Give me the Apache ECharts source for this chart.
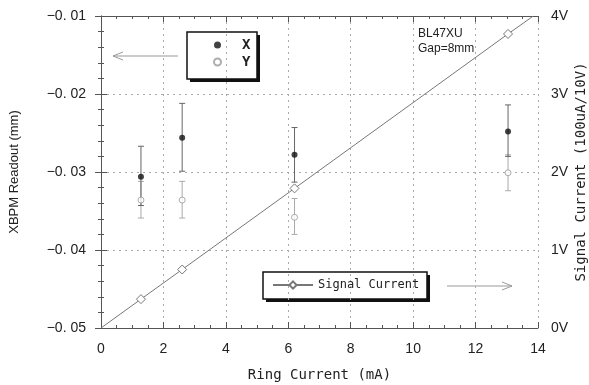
<!DOCTYPE html>
<html>
<head>
<meta charset="utf-8">
<script src="https://cdn.jsdelivr.net/npm/echarts@6/dist/echarts.min.js"></script>
<style>
  html, body { margin: 0; padding: 0; background: #fff; }
  #chart { width: 589px; height: 385px; }
</style>
</head>
<body>
<div id="chart"></div>
<script>
// ring current of each measurement (mA)
const ringCurrent = [1.28, 2.6, 6.2, 13.04];

// XBPM readout (mm) with error bar ends
const xReadout = [-0.0306, -0.0256, -0.0278, -0.0248];
const xLow = [-0.0343, -0.0299, -0.0313, -0.0280];
const xHigh = [-0.0267, -0.0212, -0.0243, -0.0214];

const yReadout = [-0.0336, -0.0336, -0.0358, -0.0301];
const yLow = [-0.0359, -0.0359, -0.0380, -0.0324];
const yHigh = [-0.0312, -0.0312, -0.0334, -0.0278];

// signal current (V), fitted line runs from origin to the top edge
const signalCurrent = [0.37, 0.75, 1.79, 3.77];
const fitStart = [0, 0];
const fitEnd = [13.85, 4.0];

const xTicks = [0, 2, 4, 6, 8, 10, 12, 14];
const leftTickLabels = ["\u22120. 05", "\u22120. 04", "\u22120. 03", "\u22120. 02", "\u22120. 01"];
const rightTickLabels = ["0V", "1V", "2V", "3V", "4V"];

const axisColor = "#555";
const gridColor = "#aaa";
const mono = "DejaVu Sans Mono";
const tickFont = "Liberation Sans Narrow, Liberation Sans, Arial";

const chart = echarts.init(document.getElementById("chart"));

function errorBars(low, high, color) {
  return {
    type: "custom",
    xAxisIndex: 0,
    yAxisIndex: 0,
    silent: true,
    data: ringCurrent.map((c, i) => [c, low[i], high[i]]),
    renderItem(params, api) {
      const lo = api.coord([api.value(0), api.value(1)]);
      const hi = api.coord([api.value(0), api.value(2)]);
      const w = 3;
      const style = { stroke: color, lineWidth: 1 };
      return {
        type: "group",
        children: [
          { type: "line", shape: { x1: lo[0], y1: lo[1], x2: hi[0], y2: hi[1] }, style },
          { type: "line", shape: { x1: lo[0] - w, y1: lo[1], x2: lo[0] + w, y2: lo[1] }, style },
          { type: "line", shape: { x1: hi[0] - w, y1: hi[1], x2: hi[0] + w, y2: hi[1] }, style },
        ],
      };
    },
    z: 2,
  };
}

const signalData = [
  { value: fitStart, symbolSize: 0 },
  ...ringCurrent.map((c, i) => [c, signalCurrent[i]]),
  { value: fitEnd, symbolSize: 0 },
];

function yAxisBase() {
  return {
    type: "value",
    axisLine: { show: true, lineStyle: { color: axisColor } },
    axisTick: { show: true, inside: true, length: 6, lineStyle: { color: axisColor } },
    minorTick: { show: true, splitNumber: 5, length: 3, lineStyle: { color: axisColor } },
    axisLabel: { color: "#222", fontSize: 14, fontFamily: tickFont, margin: 15 },
    nameLocation: "middle",
    nameRotate: 90,
    nameMoveOverlap: false,
  };
}

// framed box with a solid drop shadow, used behind the legends
function shadowBox(x, y, w, h) {
  return {
    type: "group",
    z: 5,
    children: [
      { type: "rect", shape: { x: x + 3, y: y + 3, width: w, height: h }, style: { fill: "#111" } },
      { type: "rect", shape: { x, y, width: w, height: h }, style: { fill: "#fff", stroke: "#111", lineWidth: 1.5 } },
    ],
  };
}

const legendText = { fontFamily: mono, color: "#222" };

chart.setOption({
  animation: false,
  grid: { left: 101, right: 51, top: 16, bottom: 57, containLabel: false, outerBoundsMode: "none" },
  legend: [
    {
      data: ["X", "Y"],
      orient: "vertical",
      left: 213,
      top: 38,
      padding: 0,
      itemWidth: 7,
      itemHeight: 7,
      itemGap: 3,
      z: 10,
      textStyle: Object.assign({ fontSize: 14, fontWeight: "bold", padding: [0, 0, 0, 16] }, legendText),
    },
    {
      data: ["Signal Current"],
      left: 272,
      top: 279,
      padding: 0,
      itemWidth: 40,
      itemHeight: 9,
      z: 10,
      textStyle: Object.assign({ fontSize: 12 }, legendText),
    },
  ],
  xAxis: [
    {
      type: "value",
      min: xTicks[0],
      max: xTicks[xTicks.length - 1],
      interval: 2,
      position: "bottom",
      axisLine: { lineStyle: { color: axisColor } },
      axisTick: { inside: true, length: 6, lineStyle: { color: axisColor } },
      minorTick: { show: true, splitNumber: 4, length: 3, lineStyle: { color: axisColor } },
      splitLine: { show: true, lineStyle: { color: gridColor, type: [2, 4], width: 1 } },
      axisLabel: { color: "#222", fontSize: 14, fontFamily: tickFont, margin: 14 },
      name: "Ring Current (mA)",
      nameLocation: "middle",
      nameGap: 40,
      nameTextStyle: { fontFamily: mono, fontSize: 14, color: "#222" },
    },
    {
      type: "value",
      min: xTicks[0],
      max: xTicks[xTicks.length - 1],
      interval: 2,
      position: "top",
      axisLine: { show: true, lineStyle: { color: axisColor } },
      axisTick: { show: true, inside: true, length: 6, lineStyle: { color: axisColor } },
      minorTick: { show: true, splitNumber: 4, length: 3, lineStyle: { color: axisColor } },
      splitLine: { show: false },
      axisLabel: { show: false },
    },
  ],
  yAxis: [
    Object.assign(yAxisBase(), {
      min: -0.05,
      max: -0.01,
      interval: 0.01,
      position: "left",
      splitLine: { show: true, lineStyle: { color: gridColor, type: [2, 4], width: 1 } },
      axisLabel: Object.assign(yAxisBase().axisLabel, {
        formatter: (v) => leftTickLabels[Math.round((v + 0.05) / 0.01)],
      }),
      name: "XBPM Readout (mm)",
      nameGap: 80,
      nameTextStyle: { fontFamily: "Liberation Sans, Arial", fontSize: 13, color: "#222" },
    }),
    Object.assign(yAxisBase(), {
      min: 0,
      max: 4,
      interval: 1,
      position: "right",
      splitLine: { show: false },
      axisLabel: Object.assign(yAxisBase().axisLabel, {
        margin: 13,
        formatter: (v) => rightTickLabels[Math.round(v)],
      }),
      name: "Signal Current (100uA/10V)",
      nameGap: 36,
      nameTextStyle: { fontFamily: mono, fontSize: 14, color: "#222" },
    }),
  ],
  graphic: [
    shadowBox(187, 32, 70, 47),
    shadowBox(263, 272, 164, 27),
    {
      type: "text",
      left: 418,
      top: 26,
      style: { text: "BL47XU\nGap=8mm", font: "12px Liberation Sans, Arial", fill: "#222", lineHeight: 15 },
    },
    {
      type: "group",
      children: [
        { type: "line", shape: { x1: 178, y1: 56, x2: 113, y2: 56 }, style: { stroke: "#999", lineWidth: 1 } },
        { type: "polyline", shape: { points: [[123, 52], [113, 56], [123, 60]] }, style: { stroke: "#999", lineWidth: 1, fill: null } },
        { type: "line", shape: { x1: 447, y1: 286, x2: 512, y2: 286 }, style: { stroke: "#999", lineWidth: 1 } },
        { type: "polyline", shape: { points: [[502, 282], [512, 286], [502, 290]] }, style: { stroke: "#999", lineWidth: 1, fill: null } },
      ],
    },
  ],
  series: [
    {
      name: "Signal Current",
      type: "line",
      xAxisIndex: 0,
      yAxisIndex: 1,
      data: signalData,
      symbol: "diamond",
      symbolSize: 9,
      showAllSymbol: true,
      lineStyle: { color: "#777", width: 1 },
      itemStyle: { color: "#fff", borderColor: "#777", borderWidth: 1 },
      z: 1,
    },
    errorBars(yLow, yHigh, "#aaa"),
    errorBars(xLow, xHigh, "#666"),
    {
      name: "Y",
      type: "scatter",
      xAxisIndex: 0,
      yAxisIndex: 0,
      data: ringCurrent.map((c, i) => [c, yReadout[i]]),
      symbol: "circle",
      symbolSize: 6,
      itemStyle: { color: "#fff", borderColor: "#999", borderWidth: 1 },
      z: 3,
    },
    {
      name: "X",
      type: "scatter",
      xAxisIndex: 0,
      yAxisIndex: 0,
      data: ringCurrent.map((c, i) => [c, xReadout[i]]),
      symbol: "circle",
      symbolSize: 6,
      itemStyle: { color: "#111" },
      z: 4,
    },
  ],
});
</script>
</body>
</html>
